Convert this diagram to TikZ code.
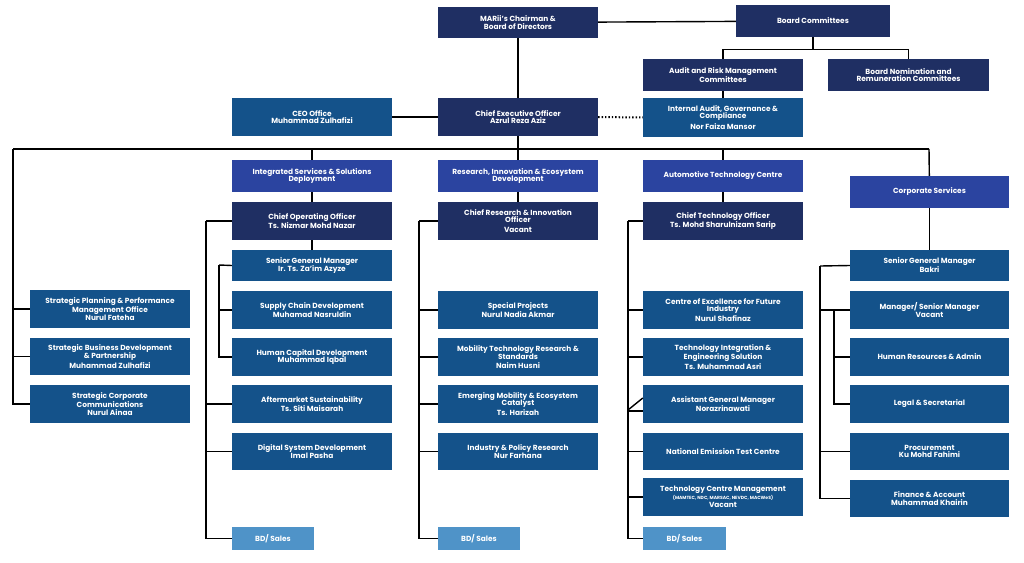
\documentclass[tikz,border=0pt]{standalone}
\usepackage{fontspec}
\setmainfont{Poppins}
\definecolor{navy}{HTML}{1F2F63}
\definecolor{midblue}{HTML}{14528A}
\definecolor{royal}{HTML}{2B44A0}
\definecolor{light}{HTML}{4F93C8}
% box from corner (x1,y1) to (x2,y2)
\newcommand{\orgbox}[7]{%
  \node[unit, #6, minimum width={(#4-#2)*1pt}, minimum height={(#5-#3)*1pt}]
    (#1) at ({(#2+#4)/2},{(#3+#5)/2}) {#7};}
\begin{document}
\begin{tikzpicture}
[
    x = 1pt, y = -1pt,
    unit/.style = {inner sep = 0, align = center, text = white,
                   font = \fontsize{7.4}{7.6}\selectfont\bfseries},
    navybox/.style = {fill = navy},
    midbox/.style = {fill = midblue},
    royalbox/.style = {fill = royal},
    salesbox/.style = {fill = light},
    link/.style = {line width = 1.4pt, black}]

\useasboundingbox (0,0) rectangle (1024,562);

% top levels
\orgbox{chair}{438}{7}{598}{38}{navybox}{MARii's Chairman \&\\Board of Directors}
\orgbox{board}{736}{5}{890}{37}{navybox}{Board Committees}
\orgbox{audit}{643}{59}{803}{91}{navybox}{Audit and Risk Management\\Committees}
\orgbox{nomin}{828}{59}{989}{91}{navybox}{Board Nomination and\\Remuneration Committees}
\orgbox{ceooff}{232}{98}{392}{136}{midbox}{CEO Office\\Muhammad Zulhafizi}
\orgbox{ceo}{438}{98}{598}{136}{navybox}{Chief Executive Officer\\Azrul Reza Aziz}
\orgbox{iagc}{643}{98}{803}{137}{midbox}{Internal Audit, Governance \&\\Compliance\\[2pt]Nor Faiza Mansor}

% divisions
\orgbox{issd}{232}{160}{392}{192}{royalbox}{Integrated Services \& Solutions\\Deployment}
\orgbox{ried}{438}{160}{598}{192}{royalbox}{Research, Innovation \& Ecosystem\\Development}
\orgbox{atc}{643}{160}{803}{192}{royalbox}{Automotive Technology Centre}
\orgbox{corp}{850}{176}{1009}{208}{royalbox}{Corporate Services}

% strategic units
\orgbox{spm}{30}{290}{190}{328}{midbox}{Strategic Planning \& Performance\\Management Office\\[1pt]Nurul Fateha}
\orgbox{sbd}{30}{338}{190}{375}{midbox}{Strategic Business Development\\\& Partnership\\[1pt]Muhammad Zulhafizi}
\orgbox{scc}{30}{385}{190}{423}{midbox}{Strategic Corporate\\Communications\\[1pt]Nurul Ainaa}

% integrated services
\orgbox{coo}{232}{202}{392}{240}{navybox}{Chief Operating Officer\\Ts. Nizmar Mohd Nazar}
\orgbox{sgmone}{232}{250}{392}{281}{midbox}{Senior General Manager\\Ir. Ts. Za'im Azyze}
\orgbox{supply}{232}{291}{392}{329}{midbox}{Supply Chain Development\\Muhamad Nasruldin}
\orgbox{humcap}{232}{338}{392}{376}{midbox}{Human Capital Development\\Muhammad Iqbal}
\orgbox{after}{232}{385}{392}{423}{midbox}{Aftermarket Sustainability\\Ts. Siti Maisarah}
\orgbox{digital}{232}{433}{392}{470}{midbox}{Digital System Development\\Imal Pasha}
\orgbox{salesone}{232}{527}{314}{550}{salesbox}{BD/ Sales}

% research
\orgbox{crio}{438}{202}{598}{240}{navybox}{Chief Research \& Innovation\\Officer\\[2pt]Vacant}
\orgbox{special}{438}{291}{598}{329}{midbox}{Special Projects\\Nurul Nadia Akmar}
\orgbox{mobility}{438}{338}{598}{376}{midbox}{Mobility Technology Research \&\\Standards\\[1pt]Naim Husni}
\orgbox{emerging}{438}{385}{598}{423}{midbox}{Emerging Mobility \& Ecosystem\\Catalyst\\[1pt]Ts. Harizah}
\orgbox{industry}{438}{433}{598}{470}{midbox}{Industry \& Policy Research\\Nur Farhana}
\orgbox{salestwo}{438}{527}{520}{550}{salesbox}{BD/ Sales}

% automotive
\orgbox{cto}{643}{202}{803}{240}{navybox}{Chief Technology Officer\\Ts. Mohd Sharulnizam Sarip}
\orgbox{coe}{643}{291}{803}{329}{midbox}{Centre of Excellence for Future\\Industry\\[1pt]Nurul Shafinaz}
\orgbox{techint}{643}{338}{803}{376}{midbox}{Technology Integration \&\\Engineering Solution\\[1pt]Ts. Muhammad Asri}
\orgbox{agm}{643}{385}{803}{423}{midbox}{Assistant General Manager\\Norazrinawati}
\orgbox{netc}{643}{433}{803}{470}{midbox}{National Emission Test Centre}
\orgbox{tcm}{643}{478}{803}{516}{midbox}{Technology Centre Management\\{\fontsize{4.5}{5}\selectfont(MAMTEC, NDC, MARSAC, NEVDC, MACWeS)}\\[1pt]Vacant}
\orgbox{salesthree}{643}{527}{726}{550}{salesbox}{BD/ Sales}

% corporate
\orgbox{bakri}{850}{250}{1009}{281}{midbox}{Senior General Manager\\Bakri}
\orgbox{manager}{850}{291}{1009}{329}{midbox}{Manager/ Senior Manager\\Vacant}
\orgbox{hradmin}{850}{338}{1009}{376}{midbox}{Human Resources \& Admin}
\orgbox{legal}{850}{385}{1009}{423}{midbox}{Legal \& Secretarial}
\orgbox{procure}{850}{433}{1009}{470}{midbox}{Procurement\\Ku Mohd Fahimi}
\orgbox{finance}{850}{480}{1009}{517}{midbox}{Finance \& Account\\Muhammad Khairin}

% connectors, top
\draw[link] (chair) -- (board);
\draw[link] (chair) -- (ceo);
\draw[link] (ceooff) -- (ceo);
\draw[link, dotted, line width = 2pt] (ceo) -- (iagc);
\draw[link] (board.south) -- ++(0,12) coordinate (fork);
\draw[link] (audit.north) |- (fork) -| (nomin.north);
\draw[link] (audit) -- (iagc);

% main bus
\coordinate (busL) at (13,149);
\coordinate (busR) at (929,149);
\draw[link] (busL) -- (busR);
\draw[link] (ceo) -- (ceo |- busL);
\foreach \d in {issd, ried, atc}
    \draw[link] (\d) -- (\d |- busL);
\draw[link] (busR) -- (corp);
\foreach \s in {spm, sbd, scc}
    \draw[link] (busL) |- (\s);

% columns
\draw[link] (issd) -- (coo);
\draw[link] (coo) -- (sgmone);
\draw[link] (coo.west) -- (206,221) coordinate (cooL);
\foreach \s in {after, digital, salesone}
    \draw[link] (cooL) |- (\s);
\draw[link] (sgmone.west) -- (219,265) coordinate (sgmL);
\foreach \s in {supply, humcap}
    \draw[link] (sgmL) |- (\s);

\draw[link] (ried) -- (crio);
\draw[link] (crio.west) -- (419,221) coordinate (crioL);
\foreach \s in {special, mobility, emerging, industry, salestwo}
    \draw[link] (crioL) |- (\s);

\draw[link] (atc) -- (cto);
\draw[link] (cto.west) -- (628,221) coordinate (ctoL);
\foreach \s in {coe, techint}
    \draw[link] (ctoL) |- (\s);
\draw[link] (ctoL) |- ([yshift=-7pt]agm.west);
\draw[link] ([yshift=6pt]agm.west) -- (628,410) coordinate (agmL);
\foreach \s in {netc, tcm, salesthree}
    \draw[link] (agmL) |- (\s);

\draw[link] (corp) -- (bakri);
\draw[link] (bakri.west) -- (820,266) coordinate (bakriL);
\foreach \s in {manager, procure, finance}
    \draw[link] (bakriL) |- (\s);
\draw[link] (manager.west) ++(0,0) -- (834,310) coordinate (mgrL);
\foreach \s in {hradmin, legal}
    \draw[link] (mgrL) |- (\s);

\end{tikzpicture}
\end{document}
